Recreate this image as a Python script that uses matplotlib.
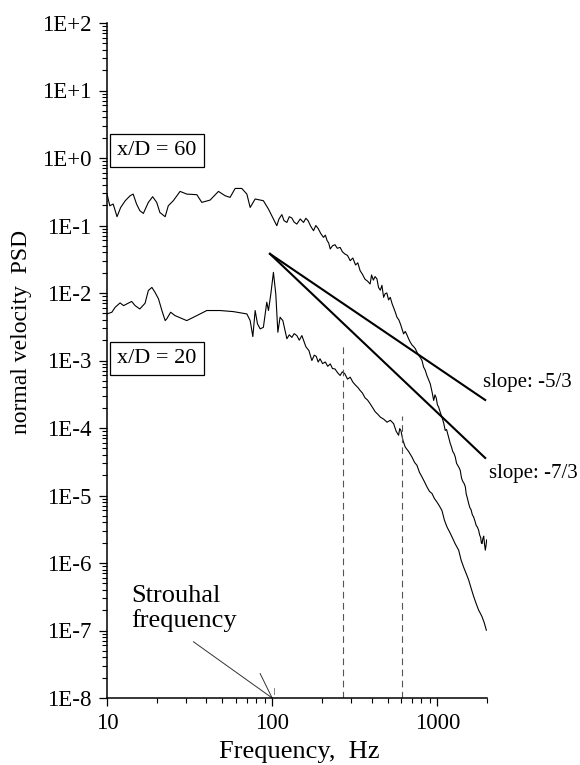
import matplotlib
matplotlib.use("Agg")
import matplotlib.pyplot as plt
from matplotlib.ticker import LogLocator, FixedLocator, FixedFormatter, NullFormatter

plt.rcParams['font.family'] = ['Liberation Serif', 'DejaVu Serif']
plt.rcParams['axes.unicode_minus'] = False

# ---- data ----
F60 = [10, 10.4, 10.9, 11.5, 12.1, 12.9, 13.8, 14.4, 15.1, 15.8, 16.6, 17.8, 18.9, 20.0,
       20.9, 22.5, 23.5, 25.2, 27.7, 30.4, 35.0, 37.5, 42.1, 47.3, 51.9, 55.6, 59.7, 65.5,
       70.3, 73.6, 78.9, 88.5, 95.0, 106.7, 110, 114.5, 118, 122.8, 127, 131.6, 136, 141.1,
       148, 154.9, 160, 165, 171, 178, 184, 190, 197, 204.6, 210, 215, 220, 224.7, 232, 240,
       248, 258, 266, 275, 286, 297, 308, 320, 330, 341, 352, 365, 378, 392, 400, 410, 420,
       431, 441, 452, 462, 473, 484, 495, 507, 519, 532, 545, 557, 570, 585, 600, 612, 625,
       640, 655, 670, 686, 703, 720, 736, 753, 770, 790, 808, 826, 845, 865, 885, 907, 930,
       951, 968, 985, 1002, 1019, 1043, 1067, 1092, 1117, 1138, 1160, 1180, 1199, 1220, 1240,
       1262, 1285, 1308, 1330, 1353, 1377, 1403, 1430, 1455, 1479, 1497, 1515, 1532, 1549,
       1575, 1600, 1630, 1660, 1690, 1720, 1750, 1780, 1805, 1830, 1848, 1866, 1888, 1910,
       1932, 1954, 1972, 1990]
P60 = [0.292, 0.196, 0.208, 0.135, 0.185, 0.233, 0.276, 0.292, 0.208, 0.166, 0.151, 0.220,
       0.267, 0.220, 0.156, 0.135, 0.196, 0.233, 0.320, 0.292, 0.286, 0.220, 0.238, 0.320,
       0.276, 0.261, 0.354, 0.354, 0.292, 0.185, 0.247, 0.233, 0.175, 0.0993, 0.125, 0.145,
       0.118, 0.111, 0.135, 0.129, 0.112, 0.105, 0.125, 0.111, 0.128, 0.118, 0.098, 0.0838,
       0.100, 0.090, 0.076, 0.0667, 0.072, 0.060, 0.055, 0.0449, 0.050, 0.052, 0.046, 0.0474,
       0.041, 0.038, 0.036, 0.0301, 0.033, 0.026, 0.028, 0.0214, 0.019, 0.0160, 0.0150,
       0.0136, 0.0185, 0.0155, 0.0175, 0.0162, 0.0120, 0.0110, 0.0130, 0.00863, 0.0098,
       0.0100, 0.0079, 0.00863, 0.0070, 0.0060, 0.0052, 0.00437, 0.0040, 0.0034, 0.0029,
       0.00248, 0.0027, 0.0024, 0.0021, 0.00187, 0.0017, 0.0016, 0.0015, 0.00133, 0.0012,
       0.0011, 0.0010, 0.00080, 0.00072, 0.00060, 0.00052, 0.00045, 0.00034, 0.000256,
       0.00031, 0.00028, 0.00022, 0.000204, 0.00017, 0.000145, 0.00012, 0.000092, 0.000095,
       0.000080, 0.000068, 5.86e-5, 5.2e-5, 4.5e-5, 4.2e-5, 3.72e-5, 3.0e-5, 2.8e-5, 2.6e-5,
       2.36e-5, 1.8e-5, 1.6e-5, 1.5e-5, 1.34e-5, 1.05e-5, 9.5e-6, 8.5e-6, 7.6e-6, 6.6e-6,
       6.2e-6, 5.2e-6, 4.8e-6, 4.2e-6, 3.6e-6, 3.4e-6, 3.05e-6, 2.6e-6, 2.4e-6, 2.0e-6,
       1.94e-6, 2.3e-6, 2.5e-6, 1.9e-6, 1.55e-6, 1.8e-6, 2.2e-6]

F20 = [10, 10.7, 11.2, 12.0, 12.6, 13.2, 14.1, 14.8, 15.8, 17.0, 17.8, 18.7, 19.5, 20.5,
       21.5, 22.5, 23.0, 24.3, 25.8, 30.4, 35.0, 40.2, 48.4, 58.2, 70.3, 73.6, 76.4, 78.9,
       81.5, 84.6, 88.5, 92.8, 95.0, 98.2, 101.8, 105.2, 108.3, 111.7, 116.1, 122.8, 127,
       131.6, 136, 141.1, 146, 151.4, 160, 167, 174, 180, 185, 190, 195, 202, 210, 217, 225,
       232, 240, 249, 258, 266, 275, 286, 297, 308, 320, 330, 341, 352, 365, 378, 392, 406,
       420, 436, 452, 474, 496, 520, 544, 563, 583, 592, 602, 620, 640, 670, 703, 728, 753,
       780, 808, 836, 866, 897, 929, 961, 995, 1030, 1067, 1105, 1146, 1186, 1228, 1287,
       1347, 1395, 1443, 1495, 1549, 1604, 1660, 1720, 1780, 1822, 1866, 1925, 1982]
P20 = [4.9e-3, 5.19e-3, 6.14e-3, 7.13e-3, 6.5e-3, 6.9e-3, 7.5e-3, 6.5e-3, 5.8e-3, 7.05e-3,
       1.09e-2, 1.21e-2, 1.03e-2, 8.2e-3, 5.5e-3, 3.9e-3, 4.14e-3, 5.19e-3, 4.63e-3, 3.9e-3,
       4.63e-3, 5.5e-3, 5.5e-3, 5.3e-3, 4.9e-3, 3.9e-3, 2.26e-3, 5.5e-3, 3.5e-3, 2.94e-3,
       3.1e-3, 7.3e-3, 5.5e-3, 9.7e-3, 2.02e-2, 9.7e-3, 2.62e-3, 4.38e-3, 3.9e-3, 2.1e-3,
       2.4e-3, 2.2e-3, 2.5e-3, 2.34e-3, 2.0e-3, 2.34e-3, 1.6e-3, 1.4e-3, 1.0e-3, 1.2e-3,
       1.15e-3, 0.95e-3, 1.06e-3, 0.9e-3, 9.5e-4, 8.2e-4, 8.9e-4, 7.6e-4, 7.5e-4, 6.6e-4,
       6.0e-4, 6.8e-4, 6.4e-4, 5.3e-4, 5.66e-4, 4.8e-4, 4.3e-4, 4.0e-4, 3.6e-4, 3.3e-4,
       2.8e-4, 2.6e-4, 2.29e-4, 2.0e-4, 1.75e-4, 1.6e-4, 1.45e-4, 1.35e-4, 1.22e-4, 1.3e-4,
       1.16e-4, 9.0e-5, 7.8e-5, 9.8e-5, 9.2e-5, 6.5e-5, 5.2e-5, 4.5e-5, 3.7e-5, 3.1e-5,
       2.8e-5, 2.2e-5, 1.88e-5, 1.6e-5, 1.34e-5, 1.15e-5, 1.07e-5, 9.0e-6, 8.0e-6, 7.0e-6,
       6.0e-6, 4.3e-6, 3.4e-6, 2.9e-6, 2.43e-6, 1.9e-6, 1.55e-6, 1.1e-6, 8.7e-7, 7.0e-7,
       5.6e-7, 4.2e-7, 3.2e-7, 2.5e-7, 2.0e-7, 1.8e-7, 1.6e-7, 1.3e-7, 1.01e-7]

SLOPE_F = [97, 1950]
SLOPE53_P = [0.038, 2.6e-4]
SLOPE73_P = [0.038, 3.6e-5]

DASH_F = [268, 611]
DASH_TOP = [1.77e-3, 1.5e-4]

YTICKS = [1e2, 1e1, 1e0, 1e-1, 1e-2, 1e-3, 1e-4, 1e-5, 1e-6, 1e-7, 1e-8]
YTICK_LABELS = ['1E+2', '1E+1', '1E+0', '1E-1', '1E-2', '1E-3', '1E-4', '1E-5',
                '1E-6', '1E-7', '1E-8']
XTICKS = [10, 100, 1000]
XTICK_LABELS = ['10', '100', '1000']

# ---- figure ----
W, H = 580, 765
fig = plt.figure(figsize=(W / 100, H / 100), dpi=100)
L, R, T, B = 107, 487, 23, 698
ax = fig.add_axes([L / W, 1 - B / H, (R - L) / W, (B - T) / H])

ax.set_xscale('log')
ax.set_yscale('log')
ax.set_xlim(10, 2000)
ax.set_ylim(1e-8, 1e2)

ax.plot(F60, P60, color='black', lw=0.8)
ax.plot(F20, P20, color='black', lw=0.8)
ax.plot(SLOPE_F, SLOPE53_P, color='black', lw=1.5)
ax.plot(SLOPE_F, SLOPE73_P, color='black', lw=1.5)
for f, top in zip(DASH_F, DASH_TOP):
    ax.plot([f, f], [1e-8, top], color='#555555', lw=0.8, ls=(0, (6, 4)))

# Strouhal annotation lines
ax.plot([33.4, 100], [6.8e-8, 1e-8], color='#333333', lw=0.7, clip_on=False)
ax.plot([84.6, 100], [2.3e-8, 1e-8], color='#333333', lw=0.7, clip_on=False)
ax.plot([102, 102], [1.15e-8, 1.4e-8], color='#888888', lw=0.7, clip_on=False)

# spines
for s in ['top', 'right']:
    ax.spines[s].set_visible(False)
for s in ['left', 'bottom']:
    ax.spines[s].set_linewidth(1.1)

ax.yaxis.set_major_locator(FixedLocator(YTICKS))
ax.yaxis.set_major_formatter(FixedFormatter(YTICK_LABELS))
ax.yaxis.set_minor_locator(LogLocator(base=10, subs=range(2, 10), numticks=20))
ax.yaxis.set_minor_formatter(NullFormatter())
ax.xaxis.set_major_locator(FixedLocator(XTICKS))
ax.xaxis.set_major_formatter(FixedFormatter(XTICK_LABELS))
ax.xaxis.set_minor_locator(LogLocator(base=10, subs=range(2, 10), numticks=20))
ax.xaxis.set_minor_formatter(NullFormatter())

ax.tick_params(which='major', direction='out', length=6, width=0.9, labelsize=16.5,
               colors='black')
ax.tick_params(which='minor', direction='out', length=3.5, width=0.8)
ax.tick_params(axis='y', which='major', pad=5)
ax.tick_params(axis='x', which='major', pad=5)

ax.set_xlabel('Frequency,  Hz', fontsize=19)
ax.xaxis.set_label_coords(0.505, -0.064)
ax.set_ylabel('normal velocity  PSD', fontsize=17)
ax.yaxis.set_label_coords(-0.197, 0.542)

# boxed labels
box = dict(boxstyle='square,pad=0.32', fc='white', ec='black', lw=0.9)
ax.text(11.5, 1.28, 'x/D = 60', fontsize=16, va='center', ha='left', bbox=box)
ax.text(11.5, 1.07e-3, 'x/D = 20', fontsize=16, va='center', ha='left', bbox=box)

# slope labels
ax.text(1900, 4.7e-4, 'slope: -5/3', fontsize=15, va='center', ha='left',
        clip_on=False)
ax.text(2060, 2.1e-5, 'slope: -7/3', fontsize=15, va='center', ha='left',
        clip_on=False)

# Strouhal text
ax.text(14, 2.63e-7, 'Strouhal', fontsize=19, va='baseline', ha='left')
ax.text(14, 1.12e-7, 'frequency', fontsize=19, va='baseline', ha='left')

fig.savefig('out.png', dpi=100)
